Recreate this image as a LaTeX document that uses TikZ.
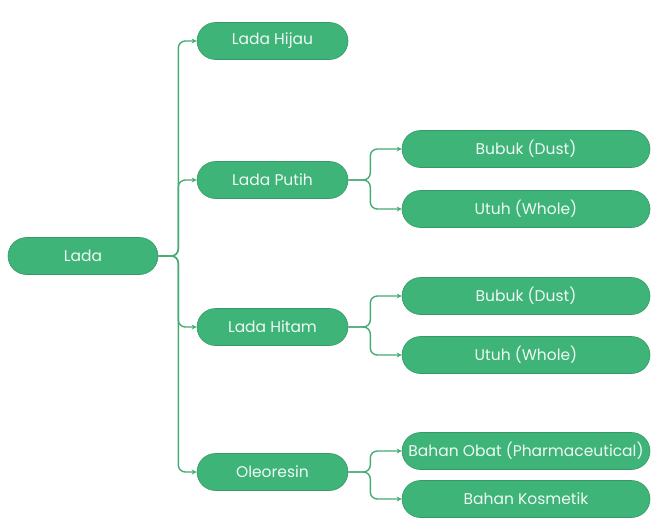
\documentclass[tikz,border=0pt]{standalone}
\usepackage{fontspec}
\setmainfont{Poppins}
\usetikzlibrary{arrows.meta}
\definecolor{boxgreen}{RGB}{62,180,120}
\definecolor{linegreen}{RGB}{70,170,115}
\begin{document}
\begin{tikzpicture}[x=1pt,y=-1pt,
  box/.style={draw=boxgreen!85!black, line width=0.6pt, fill=boxgreen, text=white!92!boxgreen, rounded corners=18.5pt,
    minimum height=37pt, inner sep=0pt, font=\fontsize{15.5}{17}\selectfont},
  lvlzero/.style={box, minimum width=150pt},
  lvlone/.style={box, minimum width=151pt},
  lvltwo/.style={box, minimum width=248pt},
  conn/.style={draw=linegreen, line width=1.4pt, rounded corners=7pt, -{Stealth[length=5pt,width=5pt]}}
]
\useasboundingbox (0,0) rectangle (652,522);
\node[lvlzero] (lada) at (83,256) {Lada};
\node[lvlone] (hijau) at (272.5,41) {Lada Hijau};
\node[lvlone] (putih) at (272.5,180) {Lada Putih};
\node[lvlone] (hitam) at (272.5,327) {Lada Hitam};
\node[lvlone] (oleo) at (272.5,472) {Oleoresin};
\node[lvltwo] (bubuka) at (526,149) {Bubuk (Dust)};
\node[lvltwo] (utuha) at (526,209) {Utuh (Whole)};
\node[lvltwo] (bubukb) at (526,296) {Bubuk (Dust)};
\node[lvltwo] (utuhb) at (526,355) {Utuh (Whole)};
\node[lvltwo] (obat) at (526,451) {Bahan Obat (Pharmaceutical)};
\node[lvltwo] (kosm) at (526,499) {Bahan Kosmetik};
\foreach \t in {hijau,putih,hitam,oleo}
  \draw[conn] (lada.east) -- ++(20,0) |- (\t.west);
\foreach \s/\t in {putih/bubuka,putih/utuha,hitam/bubukb,hitam/utuhb,oleo/obat,oleo/kosm}
  \draw[conn] (\s.east) -- ++(22,0) |- (\t.west);
\end{tikzpicture}
\end{document}
